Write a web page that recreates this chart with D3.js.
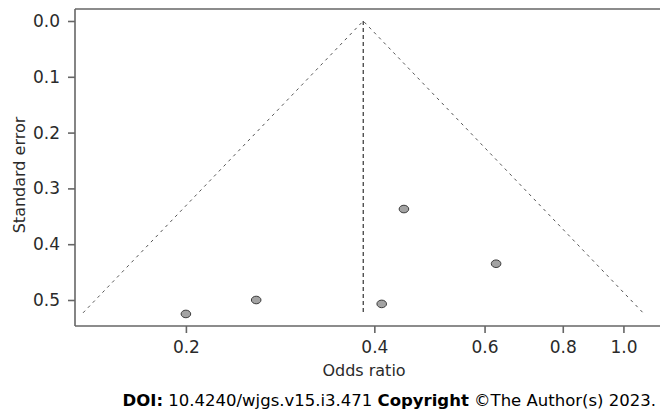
<!DOCTYPE html>
<html>
<head>
<meta charset="utf-8">
<script src="https://cdn.jsdelivr.net/npm/d3@7"></script>
<style>
  body { margin: 0; background: #fff; }
  svg text { font-family: Verdana, "DejaVu Sans", sans-serif; }
</style>
</head>
<body>
<div id="chart"></div>
<script>
// studies: odds ratio and standard error
var studyOR = [0.200, 0.259, 0.411, 0.446, 0.626];
var studySE = [0.525, 0.500, 0.507, 0.337, 0.435];

// funnel (pooled estimate and pseudo 95% limits)
var pooledOR = 0.384;
var funnelOR = [0.137, 0.384, 1.075];
var funnelSE = [0.523, 0.000, 0.523];
var funnelBottomSE = 0.523;

var xTicks = [0.2, 0.4, 0.6, 0.8, 1.0];
var yTicks = [0.0, 0.1, 0.2, 0.3, 0.4, 0.5];

var width = 660, height = 414;
var plot = {left: 75, top: 9, right: 660, bottom: 326};

var svg = d3.select("#chart").append("svg")
    .attr("width", width)
    .attr("height", height);

var x = d3.scaleLog()
    .domain([0.133, 1.144])
    .range([plot.left, plot.right]);

var y = d3.scaleLinear()
    .domain([-0.0215, 0.5466])
    .range([plot.top, plot.bottom]);

var xAxis = d3.axisBottom(x)
    .tickValues(xTicks)
    .tickFormat(d3.format(".1f"))
    .tickSizeInner(7)
    .tickSizeOuter(0);

var yAxis = d3.axisLeft(y)
    .tickValues(yTicks)
    .tickFormat(d3.format(".1f"))
    .tickSizeInner(7)
    .tickSizeOuter(0);

var gx = svg.append("g")
    .attr("transform", "translate(0," + plot.bottom + ")")
    .call(xAxis);
gx.select(".domain").attr("d", "M" + plot.left + ",0H" + plot.right);

var gy = svg.append("g")
    .attr("transform", "translate(" + plot.left + ",0)")
    .call(yAxis);
gy.select(".domain").attr("d", "M0," + plot.top + "V" + plot.bottom);

svg.selectAll(".domain, .tick line")
    .style("stroke", "#666")
    .style("stroke-width", "1.6px");

svg.selectAll(".tick text")
    .style("font-size", "17px")
    .style("fill", "#2a2a2a");
gx.selectAll(".tick text").attr("y", 27).attr("dy", 0);
gy.selectAll(".tick text").attr("x", -15);

// top border
svg.append("line")
    .attr("x1", plot.left).attr("x2", plot.right)
    .attr("y1", plot.top).attr("y2", plot.top)
    .style("stroke", "#666")
    .style("stroke-width", "1.6px");

// funnel
var funnelLine = d3.line()
    .x(function(d, i) { return x(funnelOR[i]); })
    .y(function(d, i) { return y(funnelSE[i]); });

svg.append("path")
    .attr("d", funnelLine(funnelOR))
    .style("fill", "none")
    .style("stroke", "#555")
    .style("stroke-width", "1px")
    .style("stroke-dasharray", "3,4");

svg.append("line")
    .attr("x1", x(pooledOR)).attr("x2", x(pooledOR))
    .attr("y1", y(0)).attr("y2", y(funnelBottomSE))
    .style("stroke", "#333")
    .style("stroke-width", "1.2px")
    .style("stroke-dasharray", "4,3");

// study points
svg.selectAll(".study")
    .data(studyOR)
    .enter().append("ellipse")
    .attr("class", "study")
    .attr("cx", function(d) { return x(d); })
    .attr("cy", function(d, i) { return y(studySE[i]); })
    .attr("rx", 4.8)
    .attr("ry", 3.8)
    .style("fill", "#a3a3a3")
    .style("stroke", "#3a3a3a")
    .style("stroke-width", "1px");

// axis titles
svg.append("text")
    .attr("x", 364)
    .attr("y", 376)
    .attr("text-anchor", "middle")
    .style("font-size", "16px")
    .style("fill", "#2a2a2a")
    .text("Odds ratio");

svg.append("text")
    .attr("transform", "translate(25,175) rotate(-90)")
    .attr("text-anchor", "middle")
    .style("font-size", "16px")
    .style("fill", "#2a2a2a")
    .text("Standard error");

// footer
var foot = svg.append("text")
    .attr("x", 656)
    .attr("y", 406)
    .attr("text-anchor", "end")
    .style("font-size", "16.5px")
    .style("fill", "#000");
foot.append("tspan").style("font-weight", "bold").text("DOI:");
foot.append("tspan").text(" 10.4240/wjgs.v15.i3.471 ");
foot.append("tspan").style("font-weight", "bold").text("Copyright");
foot.append("tspan").text(" \u00A9The Author(s) 2023.");
</script>
</body>
</html>
